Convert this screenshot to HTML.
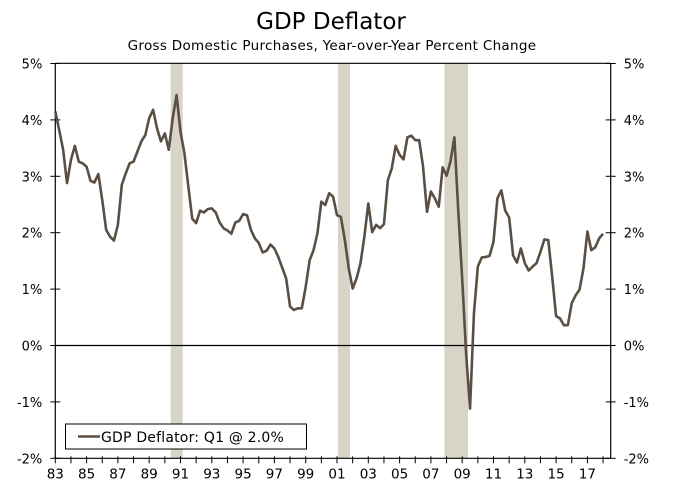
<!DOCTYPE html>
<html><head><meta charset="utf-8">
<style>
body{margin:0;background:#fff;}
svg{display:block;font-family:"DejaVu Sans","Liberation Sans",sans-serif;}
</style></head>
<body>
<svg id="chart" width="675" height="495" viewBox="0 0 675 495" xmlns="http://www.w3.org/2000/svg">
<text x="331" y="29" text-anchor="middle" font-size="23" fill="#000">GDP Deflator</text>
<text x="332" y="50" text-anchor="middle" font-size="13.5" letter-spacing="0.3" fill="#000">Gross Domestic Purchases, Year-over-Year Percent Change</text>
<g id="shades"></g>
<g id="axes"></g>
<path id="series" fill="none" stroke="#5a4f44" stroke-width="2.6" stroke-linejoin="round"/>
<g>
<rect x="65.5" y="424" width="241" height="25" fill="#fff" stroke="#000" stroke-width="1"/>
<line x1="78" y1="436.5" x2="100" y2="436.5" stroke="#5a4f44" stroke-width="2.6"/>
<text x="101" y="442" font-size="14" letter-spacing="0.2" fill="#000">GDP Deflator: Q1 @ 2.0%</text>
</g>
</svg>
<script>
const startYear = 1983;
const values = [4.15,3.82,3.47,2.88,3.29,3.54,3.26,3.23,3.17,2.92,2.89,3.04,2.58,2.05,1.93,1.86,2.14,2.85,3.05,3.23,
3.26,3.44,3.62,3.73,4.03,4.18,3.85,3.62,3.76,3.47,4.03,4.44,3.79,3.41,2.82,2.25,2.17,2.39,2.36,2.42,
2.43,2.36,2.18,2.08,2.04,1.98,2.18,2.21,2.33,2.31,2.05,1.90,1.82,1.65,1.68,1.79,1.72,1.57,1.38,1.19,
0.69,0.63,0.66,0.66,1.04,1.51,1.69,1.99,2.55,2.49,2.70,2.64,2.31,2.28,1.87,1.37,1.01,1.19,1.46,1.93,
2.52,2.01,2.14,2.08,2.15,2.93,3.14,3.54,3.38,3.30,3.69,3.72,3.64,3.64,3.17,2.37,2.73,2.61,2.46,3.16,
3.01,3.26,3.69,2.38,1.18,-0.14,-1.12,0.57,1.40,1.56,1.57,1.59,1.84,2.61,2.75,2.39,2.27,1.60,1.47,1.72,
1.46,1.33,1.40,1.46,1.66,1.88,1.87,1.22,0.52,0.48,0.36,0.36,0.75,0.89,0.99,1.37,2.02,1.69,1.74,1.90,1.98];
const recessionStarts = [1990.37, 2001.06, 2007.86];
const recessionEnds = [1991.14, 2001.83, 2009.37];
const yTicks = [5,4,3,2,1,0,-1,-2];
const xTickYears = [83,85,87,89,91,93,95,97,99,1,3,5,7,9,11,13,15,17];

const NS="http://www.w3.org/2000/svg";
const L=55.3,R=610.7,T=63.3,B=458.3,pxYear=15.65;
const x=yr=>L+(yr-1983)*pxYear;
const y=v=>345.5-v*56.4;
function mk(tag,attrs,parent){const e=document.createElementNS(NS,tag);for(const k in attrs)e.setAttribute(k,attrs[k]);parent.appendChild(e);return e;}
const shades=document.getElementById('shades');
recessionStarts.forEach((s,i)=>{
  const r=mk('rect',{x:x(s),y:T,width:x(recessionEnds[i])-x(s),height:B-T,fill:'#d8d4c8'},shades);
  
  
});
const ax=document.getElementById('axes');
const frame=[[L,T,R,T],[L,T,L,B],[R,T,R,B],[L,B,R,B],[L,y(0),R,y(0)]];
frame.forEach(f=>{
  const l=mk('line',{x1:f[0],y1:f[1],x2:f[2],y2:f[3],stroke:'#000','stroke-width':1.2},ax);
  
  
});
yTicks.forEach(v=>{
  const yy=y(v);
  mk('line',{x1:L-5,y1:yy,x2:L+5,y2:yy,stroke:'#000','stroke-width':1},ax);
  mk('line',{x1:R-5,y1:yy,x2:R+5,y2:yy,stroke:'#000','stroke-width':1},ax);
  const t1=mk('text',{x:L-13,y:yy+5,'text-anchor':'end','font-size':13,fill:'#000'},ax);
  t1.textContent=v+'%';
  
  
  const t2=mk('text',{x:R+13,y:yy+5,'text-anchor':'start','font-size':13,fill:'#000'},ax);
  t2.textContent=v+'%';
  
  
});
for(let yr=1983;yr<=2018;yr++){
  mk('line',{x1:x(yr),y1:B-2,x2:x(yr),y2:B+5,stroke:'#000','stroke-width':1},ax);
}
xTickYears.forEach(v=>{
  const yr=v>=50?1900+v:2000+v;
  const t=mk('text',{x:x(yr),y:B+20,'text-anchor':'middle','font-size':13.5,fill:'#000'},ax);
  t.textContent=String(v).padStart(2,'0');
  
  
});
document.getElementById('series').setAttribute('d',values.map((v,i)=>(i?'L':'M')+x(startYear+i/4).toFixed(2)+' '+y(v).toFixed(2)).join(' '));
</script>
</body></html>
